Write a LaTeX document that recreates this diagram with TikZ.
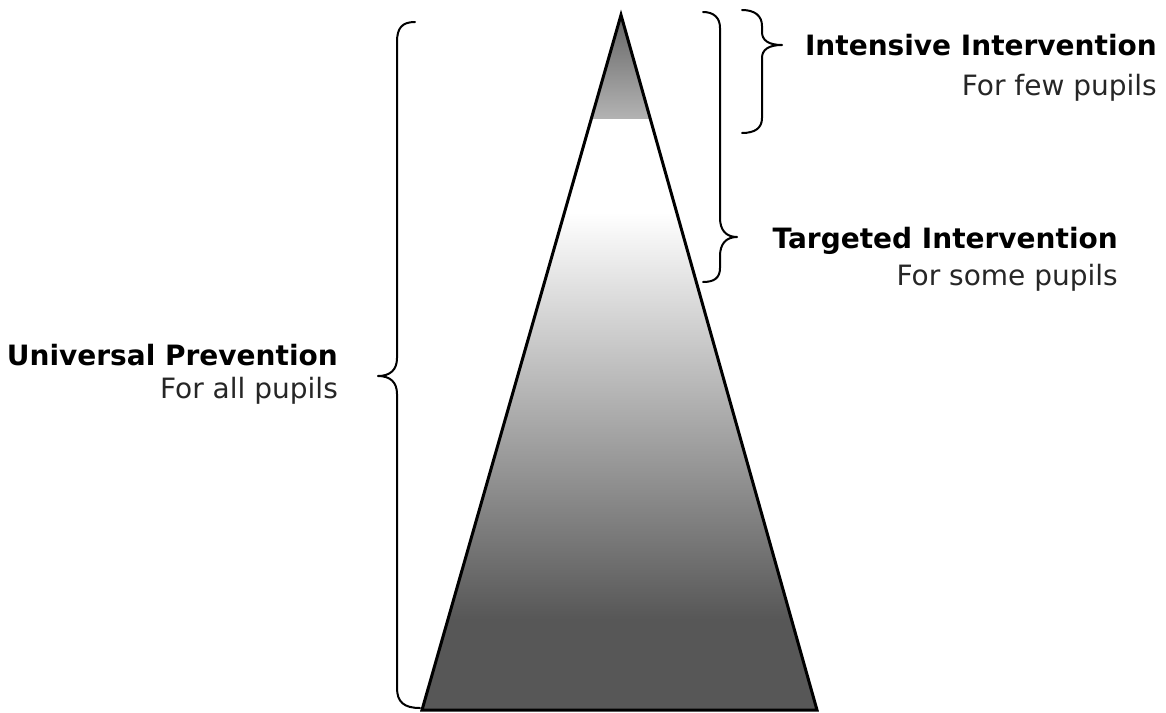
\documentclass[tikz,border=0pt]{standalone}
\usepackage{fontspec}
\setmainfont{DejaVu Sans}
\begin{document}
\begin{tikzpicture}[x=1pt,y=-1pt,
  brace/.style={draw=black,line width=2pt,line cap=round,line join=round},
  title/.style={font=\fontsize{28}{32}\selectfont\bfseries,inner sep=0pt,anchor=base east},
  sub/.style={font=\fontsize{28}{32}\selectfont,inner sep=0pt,anchor=base east,text=black!85}]
\useasboundingbox (0,0) rectangle (1166,712);
\coordinate (apex) at (621,15);
\coordinate (bl) at (422,710);
\coordinate (br) at (817,710);
\begin{scope}
  \clip (apex) -- (br) -- (bl) -- cycle;
  \fill[white] (400,0) rectangle (840,712);
  \shade[top color=black!62,bottom color=black!30] (400,10) rectangle (840,118);
  \shade[top color=white,bottom color=black!66] (400,212) rectangle (840,620);
  \fill[black!66] (400,619) rectangle (840,712);
\end{scope}
\draw[line width=3pt,line join=miter] (apex) -- (br) -- (bl) -- cycle;
% left brace
\draw[brace] (415,22) .. controls (402,22) and (397,28) .. (397,42) -- (397,358)
  .. controls (397,370) and (390,376) .. (378,376)
  .. controls (390,376) and (397,382) .. (397,394) -- (397,688)
  .. controls (397,702) and (404,708) .. (420,708);
% top right brace
\draw[brace] (742,10) .. controls (755,10) and (762,16) .. (762,26) -- (762,32)
  .. controls (762,40) and (768,45) .. (782,45)
  .. controls (768,45) and (762,50) .. (762,58) -- (762,118)
  .. controls (762,128) and (755,133) .. (742,133);
% middle brace
\draw[brace] (703,12) .. controls (714,12) and (720,18) .. (720,28) -- (720,218)
  .. controls (720,230) and (726,237) .. (737,237)
  .. controls (726,237) and (720,244) .. (720,256) -- (720,268)
  .. controls (720,278) and (714,282) .. (703,282);
\node[title] (int) at (1157,55) {Intensive Intervention};
\node[sub] (few) at (1157,95) {For few pupils};
\node[title] (tar) at (1118,248) {Targeted Intervention};
\node[sub] (some) at (1118,285) {For some pupils};
\node[title] (uni) at (338,365) {Universal Prevention};
\node[sub] (all) at (338,398) {For all pupils};
\end{tikzpicture}
\end{document}
